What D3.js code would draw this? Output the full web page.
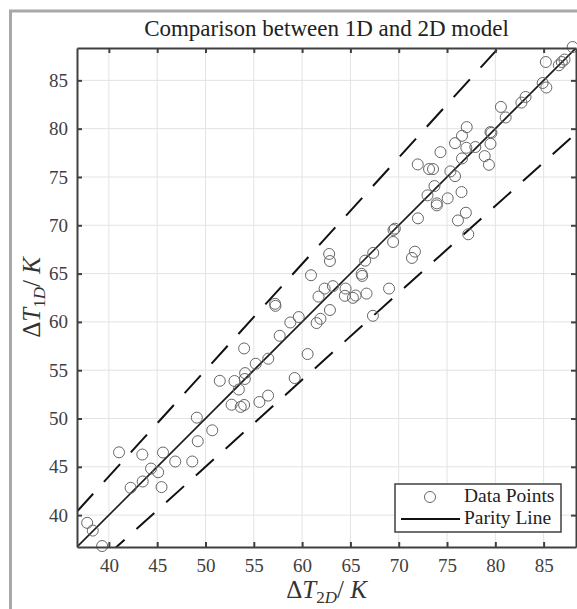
<!DOCTYPE html>
<html>
<head>
<meta charset="utf-8">
<script src="https://cdn.jsdelivr.net/npm/d3@7"></script>
<style>
  body { margin: 0; background: #fff; }
  svg { display: block; font-family: "Liberation Serif", serif; }
</style>
</head>
<body>
<div id="chart"></div>
<script>
// Delta T from the 2D model (x) and the 1D model (y), in K
const dT2D = [
  37.75, 38.33, 39.3, 41.05, 42.25, 43.46, 43.5, 44.36, 45.1, 45.45,
  45.6, 46.87, 48.63, 49.1, 49.2, 50.7, 51.48, 52.7, 53.0, 53.45,
  53.65, 54.0, 54.07, 54.1, 54.0, 55.2, 55.58, 56.5, 56.48, 57.2,
  57.24, 57.68, 58.78, 59.65, 59.23, 60.57, 61.5, 61.9, 61.7, 62.88,
  60.92, 62.33, 63.19, 62.8, 62.88, 64.5, 64.43, 65.26, 65.54, 66.16,
  66.22, 66.53, 66.67, 67.36, 67.33, 69.0, 69.42, 69.46, 69.6, 71.37,
  71.68, 71.99, 72.98, 73.7, 73.94, 73.94, 75.07, 76.5, 76.95, 76.13,
  77.2, 71.97, 73.14, 73.55, 74.32, 75.35, 75.83, 75.83, 76.55, 77.04,
  77.0, 76.55, 77.93, 78.9, 79.34, 79.5, 79.6, 79.5, 80.58, 81.07,
  82.7, 83.13, 84.9, 85.28, 85.23, 86.57, 86.88, 87.16, 88.0
];
const dT1D = [
  39.2, 38.4, 36.8, 46.5, 42.83, 46.27, 43.48, 44.82, 44.44, 42.9,
  46.48, 45.55, 45.55, 50.09, 47.65, 48.78, 53.9, 51.43, 53.88, 53.0,
  51.2, 51.4, 54.09, 54.7, 57.25, 55.67, 51.71, 56.19, 52.37, 61.87,
  61.66, 58.56, 59.94, 60.5, 54.19, 56.67, 59.88, 60.32, 62.62, 61.23,
  64.83, 63.45, 63.7, 67.03, 66.3, 63.45, 62.7, 62.49, 62.73, 64.97,
  64.76, 66.34, 62.93, 67.14, 60.63, 63.45, 68.27, 69.51, 69.65, 66.62,
  67.27, 70.72, 73.1, 74.06, 72.27, 72.06, 72.79, 73.44, 71.3, 70.5,
  69.07, 76.3, 75.82, 75.82, 77.57, 75.58, 75.09, 78.5, 79.26, 80.16,
  78.02, 76.92, 78.1, 77.16, 76.26, 78.43, 79.57, 79.65, 82.25, 81.16,
  82.7, 83.28, 84.73, 84.26, 86.9, 86.56, 86.9, 87.15, 88.45
];

const limits = [36.7, 88.35];
const tickValues = [40, 45, 50, 55, 60, 65, 70, 75, 80, 85];
// +/- 10 % band around the parity line
const bandFactors = [1.1, 0.9];
const legendLabels = ['Data Points', 'Parity Line'];

const width = 577;
const height = 609;
const margin = {top: 48, left: 77};
const plotSize = 499;

const svg = d3.select('#chart')
  .append('svg')
  .attr('width', width)
  .attr('height', height);

// figure frame
svg.append('rect')
  .attr('x', 10.5)
  .attr('y', 11)
  .attr('width', width + 20)
  .attr('height', height + 20)
  .attr('fill', '#fff')
  .attr('stroke', '#a8a8a8')
  .attr('stroke-width', 3);

const x = d3.scaleLinear().domain(limits).range([0, plotSize]);
const y = d3.scaleLinear().domain(limits).range([plotSize, 0]);

const g = svg.append('g')
  .attr('transform', `translate(${margin.left}, ${margin.top})`);

g.append('clipPath')
  .attr('id', 'plot-clip')
  .append('rect')
  .attr('width', plotSize)
  .attr('height', plotSize);

// grid
g.append('g')
  .selectAll('line')
  .data(tickValues)
  .join('line')
  .attr('x1', d => x(d)).attr('x2', d => x(d))
  .attr('y1', 0).attr('y2', plotSize)
  .attr('stroke', '#e3e3e3')
  .attr('stroke-width', 1);

g.append('g')
  .selectAll('line')
  .data(tickValues)
  .join('line')
  .attr('y1', d => y(d)).attr('y2', d => y(d))
  .attr('x1', 0).attr('x2', plotSize)
  .attr('stroke', '#e3e3e3')
  .attr('stroke-width', 1);

const lines = g.append('g').attr('clip-path', 'url(#plot-clip)');

const line = d3.line()
  .x(d => x(d[0]))
  .y(d => y(d[1]));

lines.selectAll('.band')
  .data(bandFactors)
  .join('path')
  .attr('class', 'band')
  .attr('d', f => line(limits.map(v => [v, v * f])))
  .attr('fill', 'none')
  .attr('stroke', '#111')
  .attr('stroke-width', 2)
  .attr('stroke-dasharray', '24,16');

lines.append('path')
  .attr('d', line(limits.map(v => [v, v])))
  .attr('fill', 'none')
  .attr('stroke', '#1a1a1a')
  .attr('stroke-width', 1.6);

g.append('g')
  .selectAll('circle')
  .data(dT2D.map((d, i) => [d, dT1D[i]]))
  .join('circle')
  .attr('cx', d => x(d[0]))
  .attr('cy', d => y(d[1]))
  .attr('r', 5.5)
  .attr('fill', 'none')
  .attr('stroke', '#666')
  .attr('stroke-width', 1);

// axes, ticks on all four sides pointing inwards
const styleAxis = sel => {
  sel.select('.domain').attr('stroke', '#404040').attr('stroke-width', 2);
  sel.selectAll('.tick line').attr('stroke', '#404040').attr('stroke-width', 2);
  sel.selectAll('.tick text')
    .attr('fill', '#404040')
    .style('font-size', '19px')
    .style('font-family', '"Liberation Serif", serif');
};

g.append('g')
  .attr('transform', `translate(0, ${plotSize})`)
  .call(d3.axisBottom(x).tickValues(tickValues).tickSizeInner(-5).tickSizeOuter(0).tickPadding(12))
  .call(styleAxis);

g.append('g')
  .call(d3.axisTop(x).tickValues(tickValues).tickSizeInner(-5).tickSizeOuter(0).tickFormat(''))
  .call(styleAxis);

g.append('g')
  .call(d3.axisLeft(y).tickValues(tickValues).tickSizeInner(-5).tickSizeOuter(0).tickPadding(9))
  .call(styleAxis);

g.append('g')
  .attr('transform', `translate(${plotSize}, 0)`)
  .call(d3.axisRight(y).tickValues(tickValues).tickSizeInner(-5).tickSizeOuter(0).tickFormat(''))
  .call(styleAxis);

// title
svg.append('text')
  .attr('x', margin.left + plotSize / 2)
  .attr('y', 36)
  .attr('text-anchor', 'middle')
  .attr('fill', '#222')
  .style('font-size', '23px')
  .text('Comparison between 1D and 2D model');

// axis labels: \Delta T_{2D} / K  and  \Delta T_{1D} / K
const mathLabel = (sel, sub) => {
  sel.append('tspan').text('\u0394');
  sel.append('tspan').style('font-style', 'italic').text('T');
  sel.append('tspan').attr('dy', 5).style('font-size', '17px').text(sub[0]);
  sel.append('tspan').style('font-size', '17px').style('font-style', 'italic').text(sub[1]);
  sel.append('tspan').attr('dy', -5).text('/ ');
  sel.append('tspan').style('font-style', 'italic').text('K');
};

svg.append('text')
  .attr('x', margin.left + plotSize / 2)
  .attr('y', 598)
  .attr('text-anchor', 'middle')
  .attr('fill', '#333')
  .style('font-size', '25px')
  .call(mathLabel, '2D');

svg.append('text')
  .attr('transform', `translate(40, ${margin.top + plotSize / 2}) rotate(-90)`)
  .attr('text-anchor', 'middle')
  .attr('fill', '#333')
  .style('font-size', '25px')
  .call(mathLabel, '1D');

// legend
const legend = svg.append('g')
  .attr('transform', 'translate(395, 484)');

legend.append('rect')
  .attr('width', 166)
  .attr('height', 48)
  .attr('fill', '#fff')
  .attr('stroke', '#404040')
  .attr('stroke-width', 1.5);

legend.append('circle')
  .attr('cx', 35)
  .attr('cy', 13)
  .attr('r', 5.5)
  .attr('fill', 'none')
  .attr('stroke', '#666');

legend.append('line')
  .attr('x1', 6).attr('x2', 65)
  .attr('y1', 35).attr('y2', 35)
  .attr('stroke', '#111')
  .attr('stroke-width', 2);

legend.selectAll('text')
  .data(legendLabels)
  .join('text')
  .attr('x', 69)
  .attr('y', (d, i) => 18 + i * 22)
  .attr('fill', '#222')
  .style('font-size', '19.5px')
  .text(d => d);
</script>
</body>
</html>
